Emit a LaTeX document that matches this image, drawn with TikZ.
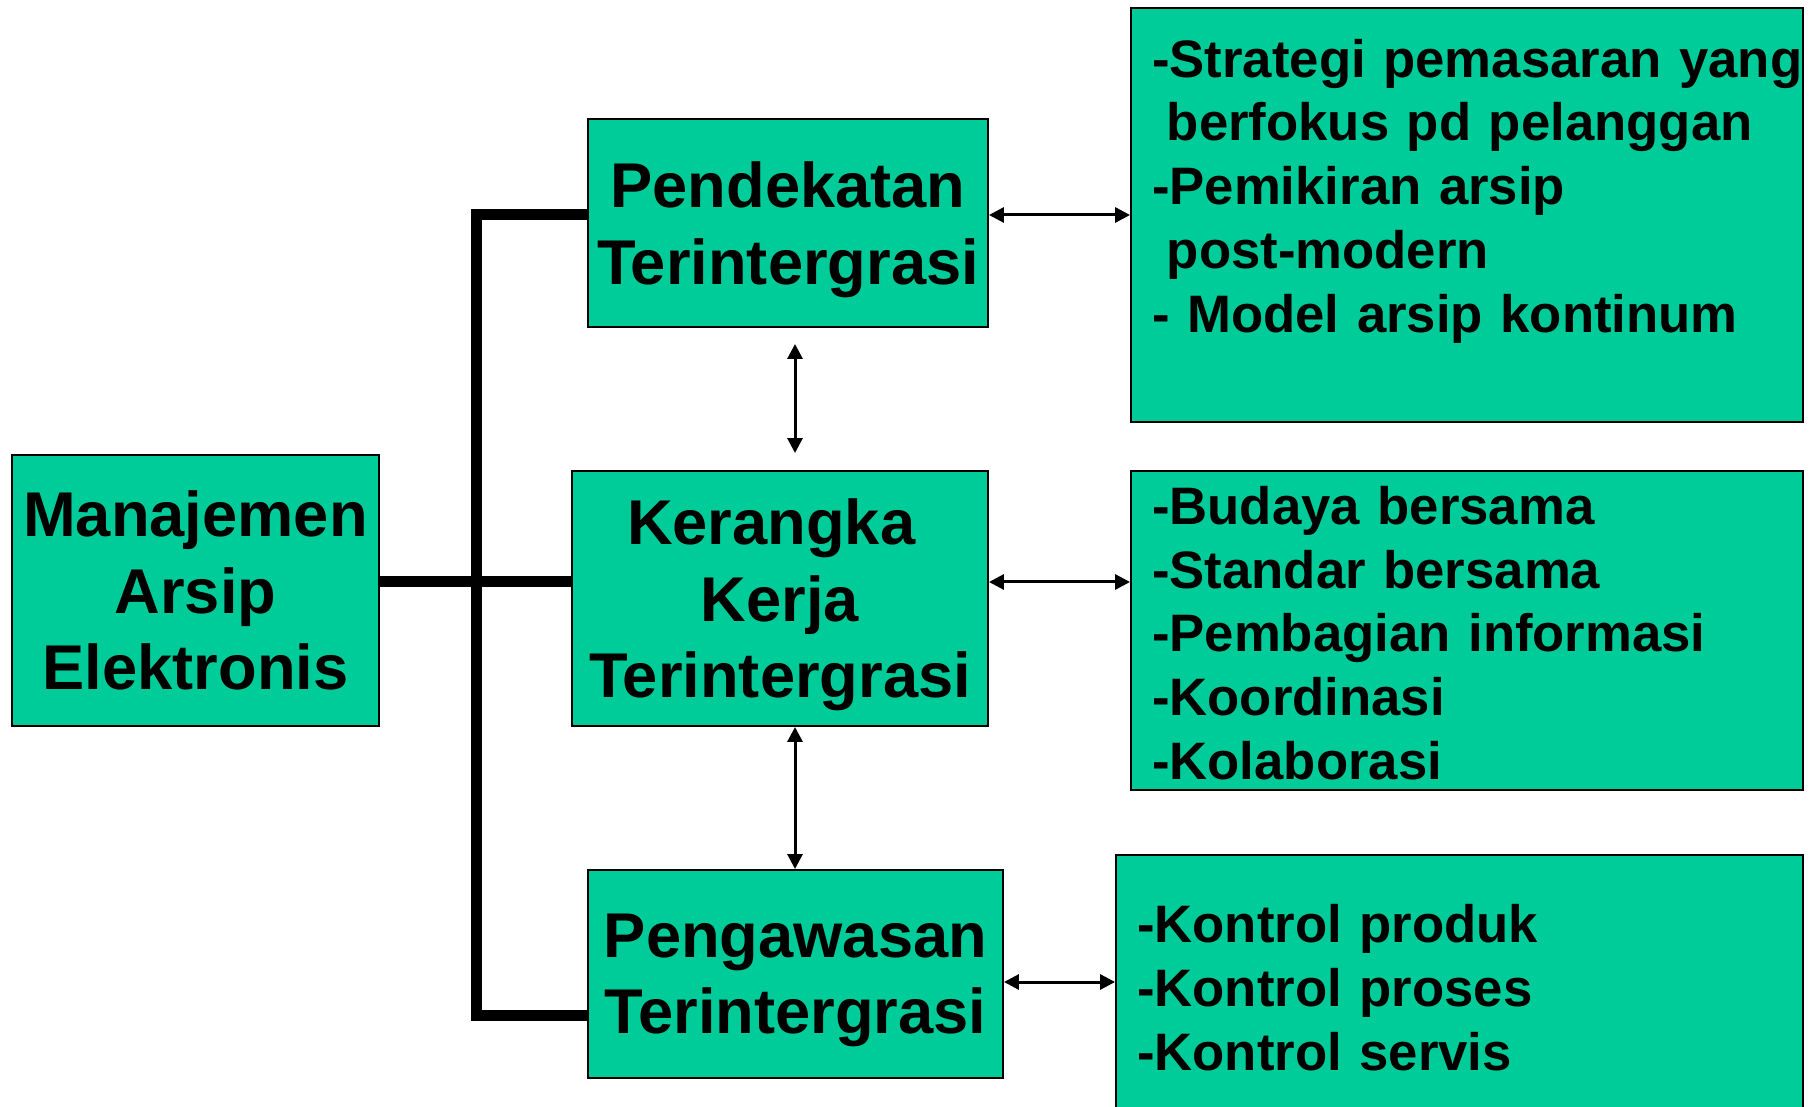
\documentclass[tikz,border=0pt]{standalone}
\usepackage{fontspec}
\setmainfont{Liberation Sans}
\usetikzlibrary{arrows.meta}
\definecolor{verdearsip}{RGB}{0,204,153}

\tikzset{
  caja/.style={draw=black, line width=0.04cm, fill=verdearsip, inner sep=0pt,
    align=center, text depth=-6pt, font=\fontsize{36}{43.5}\selectfont\bfseries},
  lista/.style={draw=black, line width=0.04cm, fill=verdearsip, inner xsep=0.42cm,
    inner ysep=0pt, align=left, font=\fontsize{30}{36.25}\selectfont\bfseries},
  flecha/.style={line width=0.06cm,
    {Triangle[length=0.3cm,width=0.3cm]}-{Triangle[length=0.3cm,width=0.3cm]}},
  bus/.style={line width=0.22cm}
}

\begin{document}
\begin{tikzpicture}[x=0.02cm, y=0.02cm]
    \useasboundingbox (0,0) rectangle (1812,1106);
    % Cajas principales
    \node[caja, text depth=-8pt, minimum width=7.34cm, minimum height=5.42cm] (mgmt) at (195.5,515.5) {Manajemen\\Arsip\\Elektronis};
    \node[caja, text depth=-2pt, minimum width=8cm, minimum height=4.16cm] (pend) at (788,883) {Pendekatan\\Terintergrasi};
    \node[caja, minimum width=8.32cm, minimum height=5.1cm] (kera) at (780,507.5) {\mbox{Kerangka\ }\\Kerja\\Terintergrasi};
    \node[caja, minimum width=8.3cm, minimum height=4.16cm] (peng) at (795.5,132) {Pengawasan\\Terintergrasi};
    % Cajas de la derecha
    \node[lista, text height=24.5pt, text width=12.6cm, minimum height=8.28cm] (r1) at (1467,891)
      {\mbox{-Strategi pemasaran yang}\\ \hspace*{0.28em}berfokus pd pelanggan\\ -Pemikiran arsip\\ \hspace*{0.28em}post-modern\\ - Model arsip kontinum\\ \mbox{}};
    \node[lista, text height=24.5pt, text width=12.6cm, minimum height=6.38cm] (r2) at (1467,475.5)
      {-Budaya bersama\\ -Standar bersama\\ -Pembagian informasi\\ -Koordinasi\\ -Kolaborasi};
    \node[lista, text width=12.9cm, minimum height=5.3cm] (r3) at (1459.5,118.5)
      {-Kontrol produk\\ -Kontrol proses\\ -Kontrol servis};
    % Puntos de union
    \coordinate (jt) at (476,891);
    \coordinate (jm) at (476,524);
    \coordinate (jb) at (476,91);
    \coordinate (fb) at (0,124);
    \coordinate (fv) at (795,0);
    % Barra gruesa
    \draw[bus] (jt -| pend.west) -- (jt) -- (jb) -- (jb -| peng.west);
    \draw[bus] (jm -| mgmt.east) -- (jm -| kera.west);
    % Flechas dobles
    \draw[flecha] (jt -| pend.east) -- (jt -| r1.west);
    \draw[flecha] (jm -| kera.east) -- (jm -| r2.west);
    \draw[flecha] (fb -| peng.east) -- (fb -| r3.west);
    \path (fv |- pend.south) ++(0,-16) coordinate (v1);
    \path (fv |- kera.north) ++(0,17) coordinate (v2);
    \draw[flecha] (v1) -- (v2);
    \draw[flecha] (fv |- kera.south) -- (fv |- peng.north);
\end{tikzpicture}
\end{document}
